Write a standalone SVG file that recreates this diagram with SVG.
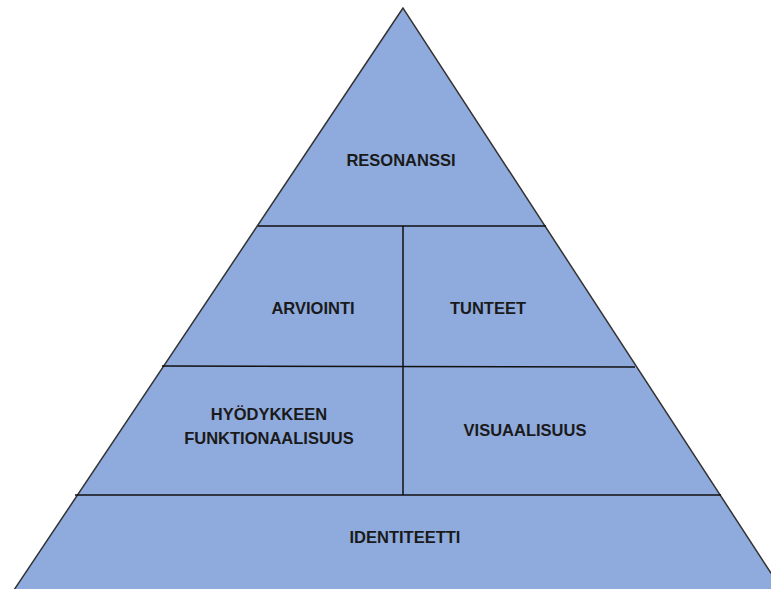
<svg xmlns="http://www.w3.org/2000/svg" width="771" height="589" viewBox="0 0 771 589">
<style>
.t{font-family:"Liberation Sans",Arial,sans-serif;font-weight:bold;font-size:16.5px;fill:#1a1a1a;text-anchor:middle}
.ln{stroke:#111;stroke-width:1.5;fill:none}
</style>
<rect width="771" height="589" fill="#fff"/>
<g id="pyramid">
<polygon points="403,8 14,590 782,590" fill="#8FAADC" stroke="#333" stroke-width="1.5"/>
</g>
<g id="connectors">
<line class="ln" x1="258" y1="226" x2="546" y2="226"/>
<line class="ln" x1="162" y1="366" x2="635" y2="367"/>
<line class="ln" x1="75" y1="495" x2="721" y2="495"/>
<line class="ln" x1="403" y1="226" x2="403" y2="495"/>
</g>
<g id="resonanssi"><text class="t" x="401" y="166">RESONANSSI</text></g>
<g id="arviointi"><text class="t" x="313" y="314">ARVIOINTI</text></g>
<g id="tunteet"><text class="t" x="488" y="314">TUNTEET</text></g>
<g id="hyodykkeen"><text class="t" x="269" y="420">HYÖDYKKEEN</text><text class="t" x="269" y="444">FUNKTIONAALISUUS</text></g>
<g id="visuaalisuus"><text class="t" x="525" y="436">VISUAALISUUS</text></g>
<g id="identiteetti"><text class="t" x="405" y="543">IDENTITEETTI</text></g>
</svg>
